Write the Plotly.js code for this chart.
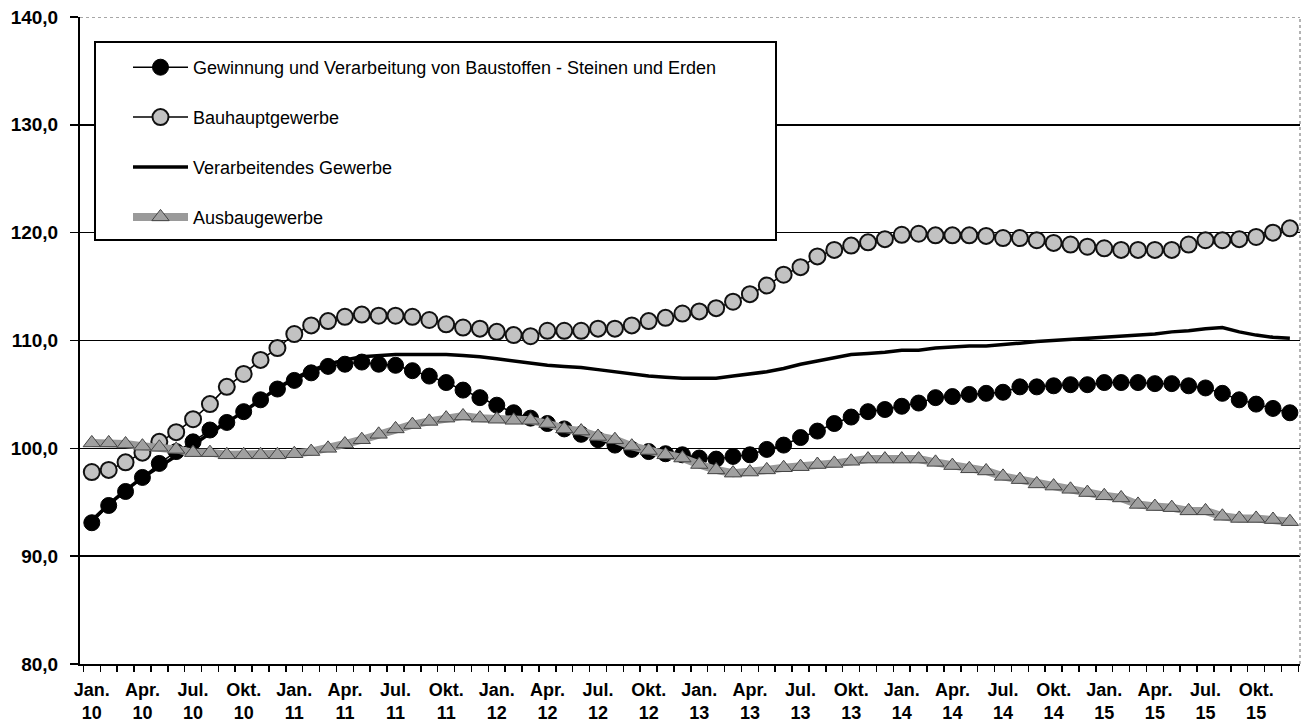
<!DOCTYPE html>
<html>
<head>
<meta charset="utf-8">
<script src="https://cdn.plot.ly/plotly-3.0.1.min.js"></script>
<style>html,body{margin:0;padding:0;background:#fff}#chart{width:1302px;height:726px}</style>
</head>
<body>
<div id="chart"></div>
<script>
const months = [
"Jan 10","Feb 10","Mär 10","Apr 10","Mai 10","Jun 10","Jul 10","Aug 10","Sep 10","Okt 10","Nov 10","Dez 10",
"Jan 11","Feb 11","Mär 11","Apr 11","Mai 11","Jun 11","Jul 11","Aug 11","Sep 11","Okt 11","Nov 11","Dez 11",
"Jan 12","Feb 12","Mär 12","Apr 12","Mai 12","Jun 12","Jul 12","Aug 12","Sep 12","Okt 12","Nov 12","Dez 12",
"Jan 13","Feb 13","Mär 13","Apr 13","Mai 13","Jun 13","Jul 13","Aug 13","Sep 13","Okt 13","Nov 13","Dez 13",
"Jan 14","Feb 14","Mär 14","Apr 14","Mai 14","Jun 14","Jul 14","Aug 14","Sep 14","Okt 14","Nov 14","Dez 14",
"Jan 15","Feb 15","Mär 15","Apr 15","Mai 15","Jun 15","Jul 15","Aug 15","Sep 15","Okt 15","Nov 15","Dez 15"];

const gewinnung = [
93.1,94.7,96.0,97.3,98.6,99.7,100.6,101.7,102.4,103.4,104.5,105.5,
106.3,107.0,107.6,107.8,108.0,107.8,107.7,107.2,106.7,106.1,105.4,104.7,
104.0,103.3,102.8,102.3,101.8,101.3,100.8,100.3,99.9,99.7,99.5,99.4,
99.1,99.0,99.25,99.4,99.9,100.3,101.0,101.6,102.3,102.9,103.4,103.6,
103.9,104.2,104.7,104.8,105.0,105.1,105.2,105.7,105.7,105.8,105.9,105.9,
106.1,106.1,106.1,106.0,106.0,105.8,105.6,105.1,104.5,104.1,103.7,103.3];

const bauhaupt = [
97.8,98.0,98.7,99.6,100.6,101.5,102.7,104.1,105.7,106.9,108.2,109.3,
110.6,111.4,111.8,112.2,112.4,112.3,112.3,112.2,111.9,111.5,111.2,111.1,
110.8,110.5,110.4,110.9,110.9,110.9,111.1,111.1,111.4,111.8,112.1,112.5,
112.7,113.0,113.6,114.3,115.1,116.1,116.8,117.8,118.4,118.8,119.1,119.4,
119.8,119.9,119.75,119.75,119.75,119.7,119.5,119.5,119.3,119.05,118.9,118.7,
118.55,118.4,118.4,118.4,118.4,118.9,119.3,119.3,119.4,119.6,120.0,120.4];

const verarbeitend = [
93.3,94.8,96.1,97.3,98.3,99.3,100.3,101.4,102.4,103.4,104.5,105.6,
106.5,107.2,107.8,108.2,108.5,108.6,108.7,108.7,108.7,108.7,108.6,108.5,
108.3,108.1,107.9,107.7,107.6,107.5,107.3,107.1,106.9,106.7,106.6,106.5,
106.5,106.5,106.7,106.9,107.1,107.4,107.8,108.1,108.4,108.7,108.8,108.9,
109.1,109.1,109.3,109.4,109.5,109.5,109.6,109.75,109.9,110.0,110.1,110.15,
110.3,110.4,110.5,110.6,110.8,110.9,111.1,111.2,110.8,110.5,110.3,110.2];

const ausbau = [
100.5,100.5,100.4,100.2,100.1,99.9,99.6,99.6,99.4,99.4,99.4,99.4,
99.5,99.7,100.0,100.4,100.8,101.3,101.8,102.2,102.5,102.8,103.0,102.8,
102.7,102.6,102.6,102.3,101.8,101.6,101.1,100.8,100.2,99.8,99.4,99.1,
98.5,98.0,97.7,97.8,98.0,98.2,98.3,98.5,98.6,98.8,99.0,99.0,
99.0,99.0,98.7,98.4,98.1,97.9,97.4,97.1,96.7,96.5,96.2,95.9,
95.6,95.4,94.8,94.6,94.5,94.2,94.2,93.7,93.5,93.5,93.4,93.2];

const seriesNames = [
"Gewinnung und Verarbeitung von Baustoffen - Steinen und Erden",
"Bauhauptgewerbe",
"Verarbeitendes Gewerbe",
"Ausbaugewerbe"];

const tickMonths = ["Jan.","Apr.","Jul.","Okt."];
const tickYears = ["10","11","12","13","14","15"];
const yTicks = [80, 90, 100, 110, 120, 130, 140];

const xIdx = months.map((m, i) => i);
const tickvals = [], ticktext = [];
tickYears.forEach((y, yi) => tickMonths.forEach((m, mi) => {
  tickvals.push(yi * 12 + mi * 3);
  ticktext.push(m + "<br>" + y);
}));

const FONT = "Liberation Sans, Arial, Helvetica, sans-serif";
const W = 1302, H = 726, ML = 80, MR = 2, MT = 17, MB = 62;
const PW = W - ML - MR, PH = H - MT - MB;
const px = v => (v - ML) / PW;
const py = v => 1 - (v - MT) / PH;

const traces = [
  {x: xIdx, y: verarbeitend, name: seriesNames[2], mode: "lines", legendrank: 3, legendgroup: "c",
   line: {color: "#000", width: 3.5}},
  {x: xIdx, y: bauhaupt, name: seriesNames[1], mode: "lines+markers", legendrank: 2, legendgroup: "b",
   line: {color: "#000", width: 1.5},
   marker: {symbol: "circle", size: 16, color: "#c2c2c2", line: {color: "#111", width: 2}}},
  {x: xIdx, y: gewinnung, name: seriesNames[0], mode: "lines+markers", legendrank: 1, legendgroup: "a",
   line: {color: "#000", width: 1.5},
   marker: {symbol: "circle", size: 16, color: "#000", line: {color: "#000", width: 1}}},
  {x: xIdx, y: ausbau, name: seriesNames[3], mode: "lines+markers", legendrank: 4, legendgroup: "d",
   line: {color: "#9a9a9a", width: 8},
   marker: {symbol: "triangle-up", size: 15, color: "#a0a0a0", line: {color: "#444", width: 1}}}
];

const layout = {
  width: W, height: H,
  margin: {l: ML, r: MR, t: MT, b: MB},
  paper_bgcolor: "#fff", plot_bgcolor: "#fff",
  separators: ",.",
  font: {family: FONT, color: "#000"},
  showlegend: true,
  legend: {
    x: px(128), xanchor: "left", y: py(49), yanchor: "top",
    bgcolor: "rgba(0,0,0,0)", borderwidth: 0,
    font: {family: FONT, size: 18, color: "#000"},
    traceorder: "grouped", tracegroupgap: 23.5, itemwidth: 55
  },
  shapes: [
    {type: "line", xref: "paper", yref: "y", layer: "above",
     x0: 0.002, x1: 1, y0: 140, y1: 140, line: {color: "#fff", width: 3}},
    {type: "line", xref: "paper", yref: "y", layer: "above",
     x0: 0, x1: 1, y0: 140, y1: 140, line: {color: "#8a8a8a", width: 1.5, dash: "dot"}},
    {type: "line", xref: "paper", yref: "paper", layer: "above",
     x0: 1, x1: 1, y0: 0, y1: 1, line: {color: "#9a9a9a", width: 1.5, dash: "dot"}},
    {type: "rect", xref: "paper", yref: "paper", layer: "above",
     x0: px(95), x1: px(776), y0: py(240), y1: py(42),
     fillcolor: "#fff", line: {color: "#000", width: 2}}
  ],
  xaxis: {
    range: [-0.7, 71.6],
    tickmode: "array", tickvals: tickvals, ticktext: ticktext,
    ticks: "", showgrid: false, zeroline: false,
    showline: true, linecolor: "#000", linewidth: 2,
    ticklabelstandoff: 8,
    tickfont: {family: FONT, size: 18, weight: 700, color: "#000"},
    minor: {tick0: -0.5, dtick: 1, ticks: "outside", ticklen: 6, tickwidth: 1.5, tickcolor: "#000", showgrid: false}
  },
  yaxis: {
    range: [80, 140],
    tickmode: "array", tickvals: yTicks,
    tickformat: ".1f",
    ticks: "outside", ticklen: 8, tickwidth: 1.5, tickcolor: "#000",
    ticklabelstandoff: 8,
    showgrid: true, gridcolor: "#000", gridwidth: 1.6, zeroline: false,
    showline: true, linecolor: "#000", linewidth: 2,
    tickfont: {family: FONT, size: 19, weight: 700, color: "#000"}
  }
};

Plotly.newPlot("chart", traces, layout, {displayModeBar: false, staticPlot: true});
</script>
</body>
</html>
